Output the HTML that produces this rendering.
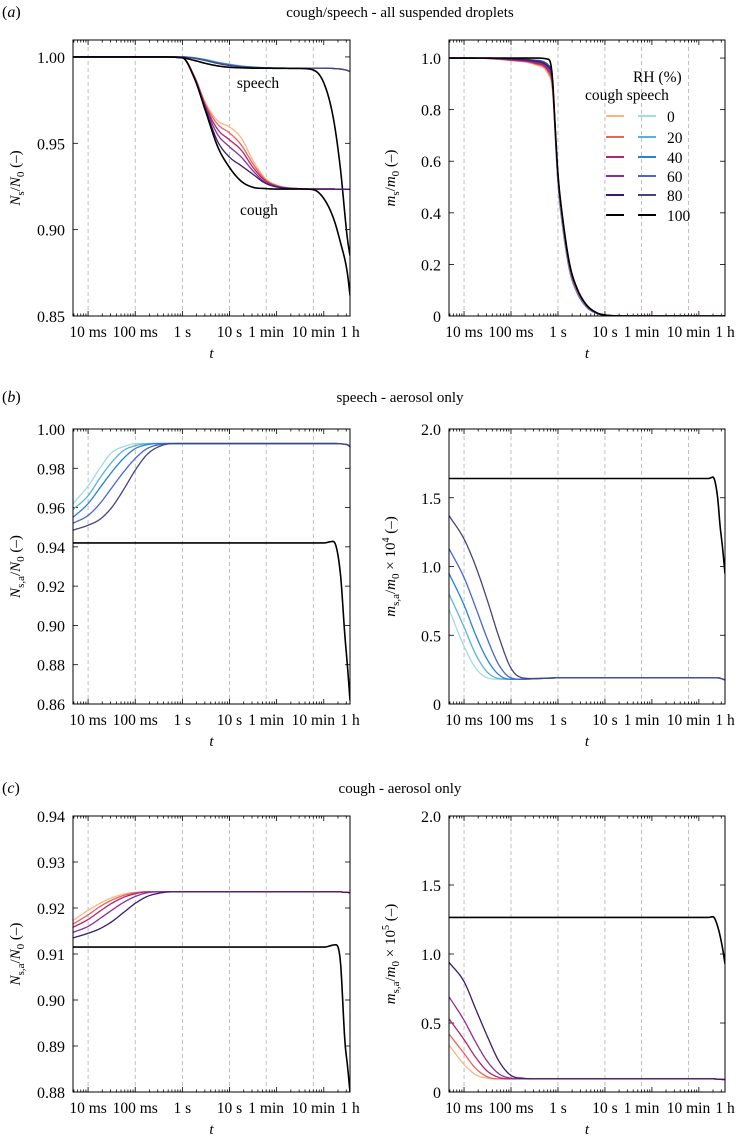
<!DOCTYPE html>
<html><head><meta charset="utf-8">
<style>
html,body{margin:0;padding:0;background:#fff;}
svg, svg text{font-family:"Liberation Serif","DejaVu Serif",serif;}
</style></head>
<body>
<svg id="fig" width="738" height="1139" viewBox="0 0 738 1139" xmlns="http://www.w3.org/2000/svg" font-family="Liberation Serif, DejaVu Serif, serif">
<text x="2" y="17" font-size="16" font-family="Liberation Serif, serif">(<tspan font-style="italic">a</tspan>)</text>
<text x="400" y="17" font-size="15" font-family="Liberation Serif, serif" text-anchor="middle">cough/speech - all suspended droplets</text>
<text x="2" y="402" font-size="16" font-family="Liberation Serif, serif">(<tspan font-style="italic">b</tspan>)</text>
<text x="400" y="402" font-size="15" font-family="Liberation Serif, serif" text-anchor="middle">speech - aerosol only</text>
<text x="2" y="793" font-size="16" font-family="Liberation Serif, serif">(<tspan font-style="italic">c</tspan>)</text>
<text x="400" y="793" font-size="15" font-family="Liberation Serif, serif" text-anchor="middle">cough - aerosol only</text>
</svg>
<script>
// ---------- DATA ----------
const xTickLabels = ["10 ms","100 ms","1 s","10 s","1 min","10 min","1 h"];
const xTickLogs = [-2,-1,0,1,1.7782,2.7782,3.5563];
const rhLabels = ["0","20","40","60","80","100"];
const coughColors = ["#fdb57e","#f0605e","#b0246e","#8b2f9c","#3a1a6e","#000000"];
const speechColors = ["#a3dcdc","#5ab2d8","#2a80d8","#4a64d0","#45447e","#000000"];

// Panel a-left: N_s/N_0
const gridA = [-2.32,-2,-1.5,-1,-0.5,0,0.25,0.5,0.75,1,1.25,1.5,1.75,2,2.5,2.77,3.0,3.2,3.35,3.5,3.556];
const aLeftSpeech0 = [1,1,1,1,1,1,0.9996,0.9985,0.997,0.9958,0.9948,0.9942,0.9938,0.9936,0.9935,0.9935,0.9935,0.9933,0.993,0.9922,0.9915];
const aLeftSpeech20 = [1,1,1,1,1,1,0.9995,0.9984,0.9969,0.9957,0.9947,0.9941,0.9938,0.9936,0.9935,0.9935,0.9935,0.9933,0.993,0.9922,0.9915];
const aLeftSpeech40 = [1,1,1,1,1,1,0.9994,0.9982,0.9967,0.9955,0.9946,0.9941,0.9937,0.9936,0.9935,0.9935,0.9935,0.9933,0.993,0.9922,0.9915];
const aLeftSpeech60 = [1,1,1,1,1,1,0.9993,0.998,0.9965,0.9953,0.9945,0.994,0.9937,0.9935,0.9935,0.9935,0.9935,0.9933,0.993,0.9922,0.9915];
const aLeftSpeech80 = [1,1,1,1,1,1,0.9992,0.9978,0.9962,0.995,0.9943,0.9939,0.9936,0.9935,0.9935,0.9935,0.9935,0.9933,0.993,0.9922,0.9915];
const aLeftSpeech100 = [1,1,1,1,1,0.9995,0.998,0.9962,0.9948,0.994,0.9937,0.9935,0.9935,0.9934,0.9933,0.9925,0.985,0.965,0.936,0.895,0.885];
const aLeftCough0 = [1,1,1,1,1,0.9995,0.989,0.973,0.963,0.9595,0.953,0.94,0.930,0.9258,0.9237,0.9235,0.9235,0.9235,0.9234,0.9234,0.9234];
const aLeftCough20 = [1,1,1,1,1,0.9995,0.989,0.972,0.961,0.956,0.949,0.938,0.9292,0.9255,0.9237,0.9235,0.9235,0.9235,0.9234,0.9234,0.9234];
const aLeftCough40 = [1,1,1,1,1,0.9995,0.989,0.971,0.958,0.952,0.946,0.936,0.9285,0.9252,0.9237,0.9235,0.9235,0.9235,0.9234,0.9234,0.9234];
const aLeftCough60 = [1,1,1,1,1,0.9995,0.988,0.970,0.955,0.948,0.942,0.934,0.9275,0.925,0.9236,0.9235,0.9235,0.9235,0.9234,0.9234,0.9234];
const aLeftCough80 = [1,1,1,1,1,0.9995,0.988,0.969,0.951,0.942,0.937,0.932,0.927,0.9247,0.9236,0.9235,0.9235,0.9235,0.9234,0.9234,0.9234];
const aLeftCough100 = [1,1,1,1,1,0.9995,0.988,0.968,0.948,0.936,0.928,0.9245,0.9238,0.9235,0.9235,0.9232,0.918,0.907,0.893,0.875,0.862];

// Panel a-right: m_s/m_0
const gridAR = [-2.32,-2,-1.5,-1,-0.5,-0.2,-0.12,-0.05,0,0.1,0.25,0.4,0.6,0.8,1,1.5,2,3,3.556];
const aRightBlack = [1,1,1,1,1,0.995,0.93,0.70,0.55,0.38,0.20,0.11,0.045,0.015,0.004,0,0,0,0];
const aRightCough0 = [1,1,0.998,0.99,0.975,0.935,0.88,0.68,0.53,0.36,0.185,0.10,0.040,0.013,0.003,0,0,0,0];
const aRightCough20 = [1,1,0.998,0.991,0.978,0.942,0.89,0.685,0.535,0.365,0.188,0.102,0.041,0.013,0.003,0,0,0,0];
const aRightCough40 = [1,1,0.999,0.993,0.981,0.95,0.90,0.69,0.54,0.37,0.19,0.104,0.042,0.014,0.003,0,0,0,0];
const aRightCough60 = [1,1,0.999,0.994,0.984,0.957,0.91,0.695,0.545,0.372,0.193,0.106,0.043,0.014,0.003,0,0,0,0];
const aRightCough80 = [1,1,0.999,0.996,0.988,0.965,0.92,0.70,0.55,0.375,0.196,0.108,0.044,0.014,0.004,0,0,0,0];
const aRightSpeech0 = [1,1,0.999,0.995,0.985,0.955,0.90,0.67,0.51,0.34,0.17,0.09,0.035,0.011,0.002,0,0,0,0];
const aRightSpeech20 = [1,1,0.999,0.996,0.987,0.96,0.905,0.675,0.515,0.345,0.175,0.093,0.036,0.012,0.003,0,0,0,0];
const aRightSpeech40 = [1,1,0.999,0.996,0.988,0.963,0.91,0.68,0.52,0.35,0.178,0.095,0.037,0.012,0.003,0,0,0,0];
const aRightSpeech60 = [1,1,1,0.997,0.99,0.967,0.915,0.685,0.525,0.355,0.18,0.097,0.038,0.012,0.003,0,0,0,0];
const aRightSpeech80 = [1,1,1,0.998,0.992,0.972,0.92,0.69,0.53,0.36,0.183,0.099,0.039,0.013,0.003,0,0,0,0];

// Panel b-left: N_s,a/N_0 (speech)
const gridB = [-2.32,-2,-1.75,-1.5,-1.25,-1,-0.75,-0.5,-0.25,0,0.5,1,2,3,3.2,3.35,3.45,3.5,3.556];
const bLeftSpeech0 = [0.962,0.971,0.980,0.988,0.991,0.9925,0.9926,0.9926,0.9926,0.9926,0.9926,0.9926,0.9926,0.9926,0.9926,0.9925,0.9922,0.992,0.991];
const bLeftSpeech20 = [0.959,0.966,0.975,0.983,0.989,0.9915,0.9925,0.9926,0.9926,0.9926,0.9926,0.9926,0.9926,0.9926,0.9926,0.9925,0.9922,0.992,0.991];
const bLeftSpeech40 = [0.955,0.962,0.970,0.978,0.985,0.990,0.992,0.9926,0.9926,0.9926,0.9926,0.9926,0.9926,0.9926,0.9926,0.9925,0.9922,0.992,0.991];
const bLeftSpeech60 = [0.952,0.956,0.962,0.970,0.978,0.985,0.990,0.992,0.9926,0.9926,0.9926,0.9926,0.9926,0.9926,0.9926,0.9925,0.9922,0.992,0.991];
const bLeftSpeech80 = [0.9485,0.951,0.954,0.960,0.969,0.979,0.987,0.991,0.9925,0.9926,0.9926,0.9926,0.9926,0.9926,0.9926,0.9925,0.9922,0.992,0.991];
const bLeftSpeech100 = [0.942,0.942,0.942,0.942,0.942,0.942,0.942,0.942,0.942,0.942,0.942,0.942,0.942,0.942,0.9428,0.927,0.894,0.880,0.862];

// Panel b-right: m_s,a/m_0 x 1e4 (speech)
const gridBR = [-2.32,-2,-1.75,-1.5,-1.25,-1,-0.75,-0.5,-0.25,0,0.5,1,2,3,3.2,3.3,3.4,3.45,3.5,3.556];
const bRightSpeech0 = [0.69,0.42,0.26,0.19,0.18,0.18,0.182,0.185,0.188,0.19,0.19,0.19,0.19,0.19,0.19,0.19,0.19,0.188,0.182,0.175];
const bRightSpeech20 = [0.80,0.56,0.36,0.23,0.185,0.18,0.182,0.185,0.188,0.19,0.19,0.19,0.19,0.19,0.19,0.19,0.19,0.188,0.182,0.175];
const bRightSpeech40 = [0.95,0.72,0.50,0.32,0.21,0.18,0.18,0.184,0.188,0.19,0.19,0.19,0.19,0.19,0.19,0.19,0.19,0.188,0.182,0.175];
const bRightSpeech60 = [1.13,0.92,0.70,0.47,0.28,0.19,0.18,0.183,0.187,0.19,0.19,0.19,0.19,0.19,0.19,0.19,0.19,0.188,0.182,0.175];
const bRightSpeech80 = [1.37,1.20,1.00,0.75,0.48,0.26,0.19,0.185,0.187,0.19,0.19,0.19,0.19,0.19,0.19,0.19,0.19,0.188,0.182,0.175];
const bRightSpeech100 = [1.64,1.64,1.64,1.64,1.64,1.64,1.64,1.64,1.64,1.64,1.64,1.64,1.64,1.64,1.64,1.65,1.50,1.30,1.15,0.95];

// Panel c-left: N_s,a/N_0 (cough)
const gridC = [-2.32,-2,-1.75,-1.5,-1.25,-1,-0.75,-0.5,-0.25,0,0.5,1,2,3,3.25,3.35,3.45,3.5,3.556];
const cLeftCough0 = [0.9173,0.9195,0.921,0.9222,0.923,0.9234,0.9235,0.9235,0.9235,0.9235,0.9235,0.9235,0.9235,0.9235,0.9235,0.9235,0.9234,0.9234,0.9233];
const cLeftCough20 = [0.9165,0.9185,0.9203,0.9217,0.9227,0.9233,0.9235,0.9235,0.9235,0.9235,0.9235,0.9235,0.9235,0.9235,0.9235,0.9235,0.9234,0.9234,0.9233];
const cLeftCough40 = [0.9158,0.9175,0.9193,0.921,0.9223,0.9231,0.9235,0.9235,0.9235,0.9235,0.9235,0.9235,0.9235,0.9235,0.9235,0.9235,0.9234,0.9234,0.9233];
const cLeftCough60 = [0.9147,0.916,0.9177,0.9195,0.9212,0.9225,0.9233,0.9235,0.9235,0.9235,0.9235,0.9235,0.9235,0.9235,0.9235,0.9235,0.9234,0.9234,0.9233];
const cLeftCough80 = [0.9135,0.9145,0.9155,0.917,0.919,0.921,0.9225,0.9232,0.9235,0.9235,0.9235,0.9235,0.9235,0.9235,0.9235,0.9235,0.9234,0.9234,0.9233];
const cLeftCough100 = [0.9115,0.9115,0.9115,0.9115,0.9115,0.9115,0.9115,0.9115,0.9115,0.9115,0.9115,0.9115,0.9115,0.9115,0.912,0.9087,0.8907,0.886,0.880];

// Panel c-right: m_s,a/m_0 x 1e5 (cough)
const gridCR = [-2.32,-2,-1.75,-1.5,-1.25,-1,-0.75,-0.5,0,1,2,3,3.2,3.3,3.4,3.5,3.556];
const cRightCough0 = [0.34,0.20,0.125,0.10,0.095,0.095,0.095,0.095,0.095,0.095,0.095,0.095,0.095,0.095,0.093,0.091,0.09];
const cRightCough20 = [0.42,0.28,0.17,0.11,0.095,0.095,0.095,0.095,0.095,0.095,0.095,0.095,0.095,0.095,0.093,0.091,0.09];
const cRightCough40 = [0.53,0.38,0.25,0.15,0.105,0.095,0.095,0.095,0.095,0.095,0.095,0.095,0.095,0.095,0.093,0.091,0.09];
const cRightCough60 = [0.69,0.52,0.36,0.22,0.13,0.10,0.095,0.095,0.095,0.095,0.095,0.095,0.095,0.095,0.093,0.091,0.09];
const cRightCough80 = [0.94,0.80,0.60,0.40,0.22,0.12,0.10,0.095,0.095,0.095,0.095,0.095,0.095,0.095,0.093,0.091,0.09];
const cRightCough100 = [1.265,1.265,1.265,1.265,1.265,1.265,1.265,1.265,1.265,1.265,1.265,1.265,1.265,1.27,1.20,1.05,0.93];

// ---------- DRAWING ----------
const NS = "http://www.w3.org/2000/svg";
const svg = document.getElementById("fig");
const SERIF = "Liberation Serif, DejaVu Serif, serif";
function mk(tag, attrs, parent){
  const e = document.createElementNS(NS, tag);
  for (const k in attrs) e.setAttribute(k, attrs[k]);
  if (tag === "text") e.setAttribute("font-family", SERIF);
  (parent||svg).appendChild(e);
  return e;
}
function monotone(xs, ys){
  const n = xs.length, d = [], m = new Array(n);
  for (let i=0;i<n-1;i++) d.push((ys[i+1]-ys[i])/(xs[i+1]-xs[i]));
  m[0]=d[0]; m[n-1]=d[n-2];
  for (let i=1;i<n-1;i++){ m[i] = (d[i-1]*d[i]<=0)?0:(d[i-1]+d[i])/2; }
  for (let i=0;i<n-1;i++){
    if (d[i]===0){ m[i]=0; m[i+1]=0; continue; }
    const a=m[i]/d[i], b=m[i+1]/d[i], s=a*a+b*b;
    if (s>9){ const t=3/Math.sqrt(s); m[i]=t*a*d[i]; m[i+1]=t*b*d[i]; }
  }
  return function(x){
    let i=0; while(i<n-2 && x>xs[i+1]) i++;
    const h=xs[i+1]-xs[i], t=(x-xs[i])/h, t2=t*t, t3=t2*t;
    return (2*t3-3*t2+1)*ys[i]+(t3-2*t2+t)*h*m[i]+(-2*t3+3*t2)*ys[i+1]+(t3-t2)*h*m[i+1];
  };
}
function panel(cfg){
  const g = mk("g", {});
  
  
  const lmin=-2.32, lmax=3.5563;
  const X = l => cfg.x0 + (l-lmin)/(lmax-lmin)*(cfg.x1-cfg.x0);
  const Y = v => cfg.y1 - (v-cfg.ymin)/(cfg.ymax-cfg.ymin)*(cfg.y1-cfg.y0);
  xTickLogs.slice(0,6).forEach(l=>{
    const ln = mk("line",{x1:X(l),x2:X(l),y1:cfg.y0,y2:cfg.y1,stroke:"#b0b0b0","stroke-width":0.8,"stroke-dasharray":"4,3"},g);
    
    
  });
  for (let dec=-3; dec<=3; dec++){
    for (let k=1;k<=9;k++){
      const l = dec+Math.log10(k);
      if (l<lmin||l>lmax) continue;
      const len = k===1?5:2.5;
      mk("line",{x1:X(l),x2:X(l),y1:cfg.y1,y2:cfg.y1-len,stroke:"#000","stroke-width":0.8},g);
      mk("line",{x1:X(l),x2:X(l),y1:cfg.y0,y2:cfg.y0+len,stroke:"#000","stroke-width":0.8},g);
    }
  }
  xTickLabels.forEach((lab,i)=>{
    const t = mk("text",{x:X(xTickLogs[i]),y:cfg.y1+21,"font-size":15.5,"text-anchor":"middle"},g);
    t.textContent = lab;
    
    
  });
  const xt = mk("text",{x:(cfg.x0+cfg.x1)/2,y:cfg.y1+42,"font-size":15,"font-style":"italic","text-anchor":"middle"},g);
  xt.textContent="t";
  
  
  cfg.yticks.forEach((v,i)=>{
    mk("line",{x1:cfg.x0,x2:cfg.x0+5,y1:Y(v),y2:Y(v),stroke:"#000","stroke-width":0.8},g);
    mk("line",{x1:cfg.x1,x2:cfg.x1-5,y1:Y(v),y2:Y(v),stroke:"#000","stroke-width":0.8},g);
    const t = mk("text",{x:cfg.x0-8,y:Y(v)+6,"font-size":16,"text-anchor":"end"},g);
    t.textContent = cfg.ytickLabels[i];
    
    
  });
  const yc=(cfg.y0+cfg.y1)/2;
  const yt = mk("text",{x:0,y:0,"font-size":15,"text-anchor":"middle",transform:`translate(${cfg.ylx},${yc}) rotate(-90)`},g);
  yt.innerHTML = cfg.ytitle;
  
  
  const cid = "clip"+cfg.name;
  const cp = mk("clipPath",{id:cid},g);
  mk("rect",{x:cfg.x0,y:cfg.y0,width:cfg.x1-cfg.x0,height:cfg.y1-cfg.y0},cp);
  const sg = mk("g",{"clip-path":`url(#${cid})`},g);
  cfg.series.forEach(s=>{
    const f = monotone(cfg.grid, s.v);
    let d="";
    for (let i=0;i<=300;i++){
      const l = lmin + (lmax-lmin)*i/300;
      d += (i?"L":"M")+X(l).toFixed(2)+","+Y(f(l)).toFixed(2);
    }
    const p = mk("path",{d:d,fill:"none",stroke:s.c,"stroke-width":s.c==="#000000"?1.6:1.3},sg);
    
    
  });
  const fr = mk("rect",{x:cfg.x0,y:cfg.y0,width:cfg.x1-cfg.x0,height:cfg.y1-cfg.y0,fill:"none",stroke:"#000","stroke-width":1},g);
  
  
  return {X,Y,g};
}
const tNsN0 = '<tspan font-style="italic">N</tspan><tspan font-size="11" dy="4">s</tspan><tspan dy="-4">/</tspan><tspan font-style="italic">N</tspan><tspan font-size="11" dy="4">0</tspan><tspan dy="-4"> (–)</tspan>';
const tNsaN0 = '<tspan font-style="italic">N</tspan><tspan font-size="11" dy="4">s,a</tspan><tspan dy="-4">/</tspan><tspan font-style="italic">N</tspan><tspan font-size="11" dy="4">0</tspan><tspan dy="-4"> (–)</tspan>';
const tmsm0 = '<tspan font-style="italic">m</tspan><tspan font-size="11" dy="4">s</tspan><tspan dy="-4">/</tspan><tspan font-style="italic">m</tspan><tspan font-size="11" dy="4">0</tspan><tspan dy="-4"> (–)</tspan>';
function tmsa(e){return '<tspan font-style="italic">m</tspan><tspan font-size="11" dy="4">s,a</tspan><tspan dy="-4">/</tspan><tspan font-style="italic">m</tspan><tspan font-size="11" dy="4">0</tspan><tspan dy="-4"> × 10</tspan><tspan font-size="10" dy="-6">'+e+'</tspan><tspan dy="6"> (–)</tspan>';}

function ser(prefix, arrs, colors, names){
  return arrs.map((v,i)=>({v:v,c:colors[i],n:prefix+"-rh"+names[i]}));
}

panel({name:"panel-a-left",x0:73,x1:350,y0:40,y1:316,ymin:0.85,ymax:1.0098,
  yticks:[0.85,0.90,0.95,1.00],ytickLabels:["0.85","0.90","0.95","1.00"],ylx:20,ytitle:tNsN0,grid:gridA,
  series:[...ser("speech-line",[aLeftSpeech0,aLeftSpeech20,aLeftSpeech40,aLeftSpeech60,aLeftSpeech80,aLeftSpeech100],speechColors,rhLabels),
          ...ser("cough-line",[aLeftCough0,aLeftCough20,aLeftCough40,aLeftCough60,aLeftCough80,aLeftCough100],coughColors,rhLabels)]});
panel({name:"panel-a-right",x0:449,x1:725,y0:40,y1:316,ymin:0,ymax:1.07,
  yticks:[0,0.2,0.4,0.6,0.8,1.0],ytickLabels:["0","0.2","0.4","0.6","0.8","1.0"],ylx:395,ytitle:tmsm0,grid:gridAR,
  series:[...ser("speech-line",[aRightSpeech0,aRightSpeech20,aRightSpeech40,aRightSpeech60,aRightSpeech80],speechColors,rhLabels),
          ...ser("cough-line",[aRightCough0,aRightCough20,aRightCough40,aRightCough60,aRightCough80],coughColors,rhLabels),
          {v:aRightBlack,c:"#000000",n:"line-rh100"}]});
panel({name:"panel-b-left",x0:73,x1:350,y0:429,y1:704,ymin:0.86,ymax:1.0,
  yticks:[0.86,0.88,0.90,0.92,0.94,0.96,0.98,1.00],ytickLabels:["0.86","0.88","0.90","0.92","0.94","0.96","0.98","1.00"],ylx:20,ytitle:tNsaN0,grid:gridB,
  series:ser("speech-line",[bLeftSpeech0,bLeftSpeech20,bLeftSpeech40,bLeftSpeech60,bLeftSpeech80,bLeftSpeech100],speechColors,rhLabels)});
panel({name:"panel-b-right",x0:449,x1:725,y0:429,y1:704,ymin:0,ymax:2.0,
  yticks:[0,0.5,1.0,1.5,2.0],ytickLabels:["0","0.5","1.0","1.5","2.0"],ylx:395,ytitle:tmsa(4),grid:gridBR,
  series:ser("speech-line",[bRightSpeech0,bRightSpeech20,bRightSpeech40,bRightSpeech60,bRightSpeech80,bRightSpeech100],speechColors,rhLabels)});
panel({name:"panel-c-left",x0:73,x1:350,y0:816,y1:1092,ymin:0.88,ymax:0.94,
  yticks:[0.88,0.89,0.90,0.91,0.92,0.93,0.94],ytickLabels:["0.88","0.89","0.90","0.91","0.92","0.93","0.94"],ylx:20,ytitle:tNsaN0,grid:gridC,
  series:ser("cough-line",[cLeftCough0,cLeftCough20,cLeftCough40,cLeftCough60,cLeftCough80,cLeftCough100],coughColors,rhLabels)});
panel({name:"panel-c-right",x0:449,x1:725,y0:816,y1:1092,ymin:0,ymax:2.0,
  yticks:[0,0.5,1.0,1.5,2.0],ytickLabels:["0","0.5","1.0","1.5","2.0"],ylx:395,ytitle:tmsa(5),grid:gridCR,
  series:ser("cough-line",[cRightCough0,cRightCough20,cRightCough40,cRightCough60,cRightCough80,cRightCough100],coughColors,rhLabels)});

const a1 = mk("text",{x:258,y:88,"font-size":15.5,"text-anchor":"middle"}); a1.textContent="speech";


const a2 = mk("text",{x:259,y:215,"font-size":15.5,"text-anchor":"middle"}); a2.textContent="cough";



const lg = mk("g",{});


const lt1 = mk("text",{x:633,y:82,"font-size":15.5},lg); lt1.textContent="RH (%)";


const lt2 = mk("text",{x:585,y:100,"font-size":15.5},lg); lt2.textContent="cough speech";


const legendRows = [116,137,157,176,195,215];
rhLabels.forEach((lab,i)=>{
  const y = legendRows[i];
  const l1 = mk("line",{x1:606,x2:624,y1:y,y2:y,stroke:coughColors[i],"stroke-width":2},lg);
  
  
  const l2 = mk("line",{x1:638,x2:656,y1:y,y2:y,stroke:speechColors[i],"stroke-width":2},lg);
  
  
  const t = mk("text",{x:667,y:y+6,"font-size":15.5},lg); t.textContent=lab;
  
  
});
</script>
</body></html>
